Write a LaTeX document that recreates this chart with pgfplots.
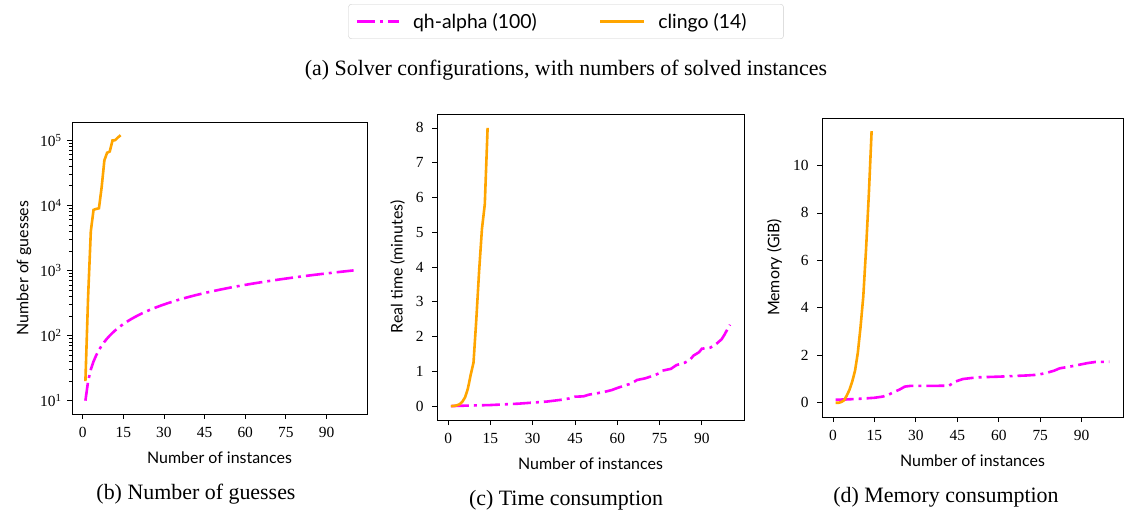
\documentclass[border=0pt]{standalone}
\usepackage{pgfplots}
\pgfplotsset{compat=1.18}
\usepackage{fontspec}
\setmainfont{Liberation Serif}
\newfontfamily\sansfont{Lato}

\definecolor{qhmag}{HTML}{FF00FF}
\definecolor{clorange}{HTML}{FFA500}

\pgfplotsset{
  runstyle/.style={
    scale only axis,
    axis line style={black, line width=0.8bp},
    tick align=outside, tick pos=left,
    major tick length=5bp, minor tick length=3bp,
    major tick style={black, line width=0.8bp},
    minor tick style={black, line width=0.6bp},
    xmin=-3.95, xmax=104.95,
    xtick={0,15,...,90},
    tick label style={font=\fontsize{15.5}{17}\selectfont},
    every x tick label/.append style={yshift=-5bp},
    every y tick label/.append style={xshift=-5bp},
    /pgf/number format/assume math mode=true,
    label style={font=\sansfont\fontsize{16}{18}\selectfont},
    xlabel style={yshift=-7bp},
    ylabel style={yshift=4bp},
    xlabel={Number of instances},
  },
  qh/.style={color=qhmag, line width=2.6bp, dash pattern=on 18bp off 5bp on 3bp off 5bp,
    legend image code/.code={\draw[##1] (0bp,0bp) -- (42bp,0bp);}},
  cl/.style={color=clorange, line width=2.6bp, solid,
    legend image code/.code={\draw[##1] (0bp,0bp) -- (44bp,0bp);}},
}

\begin{document}
\begin{tikzpicture}
\useasboundingbox (0,0) rectangle (1126bp,515bp);

% (b) guesses
\begin{semilogyaxis}[runstyle,
  at={(72bp,101bp)}, anchor=south west,
  width=295bp, height=292bp,
  ymin=6.25, ymax=190000,
  ytick={10,100,1000,10000,100000},
  yticklabels={10\textsuperscript{1},10\textsuperscript{2},10\textsuperscript{3},10\textsuperscript{4},10\textsuperscript{5}},
  every y tick label/.append style={xshift=3bp},
  ylabel style={yshift=-2bp},
  ylabel={Number of guesses},
  legend columns=2,
  legend style={at={(1.6746,1.404)}, anchor=north, draw=black!20, rounded corners=3bp,
    font=\sansfont\fontsize{19.5}{22}\selectfont, inner xsep=7bp, inner ysep=7bp,
    /tikz/every odd column/.append style={column sep=11bp},
    /tikz/every even column/.append style={column sep=60bp}},
]
\addplot[qh] coordinates {
(1,10)(2,20)(3,30)(4,40)(5,50)(6,60)(7,70)(8,80)(9,90)(10,100)
(11,110)(12,120)(13,130)(14,140)(15,150)(16,160)(17,170)(18,180)(19,190)(20,200)
(21,210)(22,220)(23,230)(24,240)(25,250)(26,260)(27,270)(28,280)(29,290)(30,300)
(31,310)(32,320)(33,330)(34,340)(35,350)(36,360)(37,370)(38,380)(39,390)(40,400)
(41,410)(42,420)(43,430)(44,440)(45,450)(46,460)(47,470)(48,480)(49,490)(50,500)
(51,510)(52,520)(53,530)(54,540)(55,550)(56,560)(57,570)(58,580)(59,590)(60,600)
(61,610)(62,620)(63,630)(64,640)(65,650)(66,660)(67,670)(68,680)(69,690)(70,700)
(71,710)(72,720)(73,730)(74,740)(75,750)(76,760)(77,770)(78,780)(79,790)(80,800)
(81,810)(82,820)(83,830)(84,840)(85,850)(86,860)(87,870)(88,880)(89,890)(90,900)
(91,910)(92,920)(93,930)(94,940)(95,950)(96,960)(97,970)(98,980)(99,990)(100,1000)
};
\addlegendentry{qh-alpha (100)}
\addplot[cl] coordinates {
(1,20)(2,400)(3,4000)(4,8500)(5,8800)(6,9000)(7,19000)(8,49000)(9,64000)(10,67000)
(11,99000)(12,100000)(13,110000)(14,119000)
};
\addlegendentry{clingo (14)\hspace*{28bp}}
\end{semilogyaxis}

% (c) time
\begin{axis}[runstyle,
  at={(437bp,95bp)}, anchor=south west,
  width=307bp, height=306bp,
  ymin=-0.4, ymax=8.4, ytick={0,1,...,8},
  ylabel={Real time (minutes)},
]
\addplot[qh] coordinates {
(1,0.0)(5,0.01)(10,0.02)(15,0.03)(20,0.05)(25,0.07)(30,0.1)(35,0.13)(40,0.18)
(43,0.22)(45,0.27)(48,0.28)(50,0.33)(55,0.4)(58,0.46)(60,0.52)(63,0.6)(65,0.65)
(67,0.75)(70,0.8)(73,0.88)(75,0.95)(76,1.02)(79,1.07)(81,1.18)(84,1.25)(86,1.35)
(87,1.45)(89,1.55)(90,1.65)(93,1.68)(95,1.78)(97,1.92)(98,2.05)(99,2.2)(100,2.34)
};
\addplot[cl] coordinates {
(1,0.0)(2,0.005)(3,0.02)(4,0.05)(5,0.12)(6,0.25)(7,0.5)(8,0.9)(9,1.25)(10,2.5)
(11,3.9)(12,5.1)(13,5.8)(14,8.0)
};
\end{axis}

% (d) memory
\begin{axis}[runstyle,
  at={(822bp,98bp)}, anchor=south west,
  width=301bp, height=299bp,
  ymin=-0.6, ymax=12.0, ytick={0,2,...,10},
  ylabel={Memory (GiB)},
]
\addplot[qh] coordinates {
(1,0.13)(5,0.14)(10,0.17)(15,0.21)(18,0.26)(20,0.33)(22,0.45)(24,0.55)(26,0.68)
(28,0.71)(35,0.71)(42,0.72)(44,0.88)(47,1.0)(52,1.07)(60,1.1)(70,1.15)(74,1.18)
(77,1.25)(80,1.35)(82,1.45)(86,1.53)(89,1.6)(92,1.67)(95,1.72)(100,1.73)
};
\addplot[cl] coordinates {
(1,0.0)(2,0.0)(3,0.03)(4,0.1)(5,0.3)(6,0.55)(7,0.9)(8,1.35)(9,2.1)(10,3.2)
(11,4.5)(12,6.5)(13,8.8)(14,11.45)
};
\end{axis}

\node[anchor=base, font=\fontsize{22}{26}\selectfont] at (566bp,439bp) {(a) Solver configurations, with numbers of solved instances};
\node[anchor=base, font=\fontsize{22}{26}\selectfont] at (196bp,16bp) {(b) Number of guesses};
\node[anchor=base, font=\fontsize{22}{26}\selectfont] at (566bp,10bp) {(c) Time consumption};
\node[anchor=base, font=\fontsize{22}{26}\selectfont] at (946bp,13bp) {(d) Memory consumption};
\end{tikzpicture}
\end{document}
